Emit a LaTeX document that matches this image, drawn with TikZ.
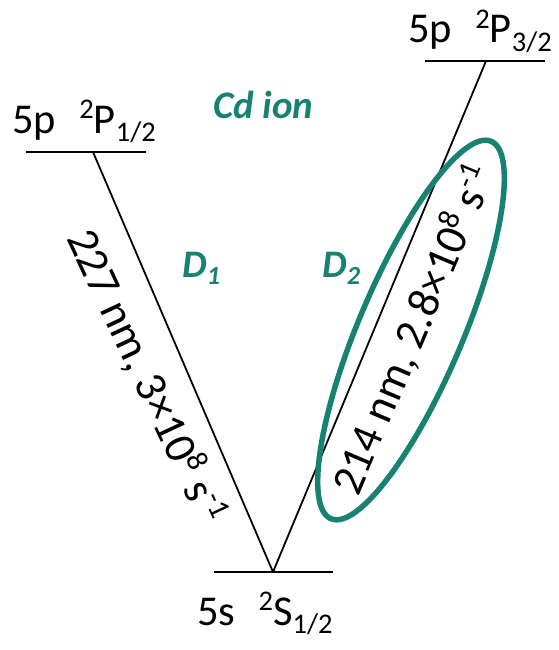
\documentclass[tikz,border=0pt]{standalone}
\usepackage{fontspec}
\setmainfont{Carlito}
\definecolor{tealc}{RGB}{24,130,114}
\newcommand\mysup[1]{\raisebox{0.34em}{\scalebox{0.67}{#1}}}
\newcommand\mysub[1]{\raisebox{-0.2em}{\scalebox{0.67}{#1}}}
\begin{document}
\begin{tikzpicture}[x=1pt,y=-1pt,
  level/.style={line width=2.4pt},
  trans/.style={line width=1.8pt},
  lbl/.style={font=\fontsize{42.5}{48}\selectfont, inner sep=0pt, anchor=base west},
  rlbl/.style={font=\fontsize{45}{50}\selectfont, inner sep=0pt, anchor=center},
  tlbl/.style={text=tealc, font=\bfseries\itshape\fontsize{39}{42}\selectfont, inner sep=0pt, anchor=base west}]
\useasboundingbox (0,0) rectangle (558,650);
% level end points
\coordinate (p1l) at (26,152);  \coordinate (p1r) at (146,152); \coordinate (p1t) at (93,152);
\coordinate (p3l) at (425,61);  \coordinate (p3r) at (545,61);  \coordinate (p3t) at (486,61);
\coordinate (sl) at (214,572);  \coordinate (sr) at (333,572);  \coordinate (s0) at (273,572);
\draw[level] (p1l) -- (p1r);
\draw[level] (p3l) -- (p3r);
\draw[level] (sl) -- (sr);
\draw[trans] (p1t) -- (s0);
\draw[trans] (s0) -- (p3t);
% level labels
\node[lbl] (lp1) at (12,133) {5p\hspace{0.55em}\mysup{2}P\mysub{1/2}};
\node[lbl] (lp3) at (408,43) {5p\hspace{0.55em}\mysup{2}P\mysub{3/2}};
\node[lbl] (ls) at (197,625) {5s\hspace{0.55em}\mysup{2}S\mysub{1/2}};
% teal labels
\node[tlbl] (cd) at (213,118) {Cd ion};
\node[tlbl] (d1) at (182,277) {D\mysub{1}};
\node[tlbl] (d2) at (322,277) {D\mysub{2}};
% transition labels
\node[rlbl, rotate=-65] (t1) at (147,376) {227 nm, 3×10\mysup{8} s\mysup{-1}};
\node[rlbl, rotate=67] (t2) at (413,330) {214 nm, 2.8×10\mysup{8} s\mysup{-1}};
\draw[tealc, line width=5.5pt, rotate around={67:(411,330)}] (411,330) ellipse [x radius=205pt, y radius=52pt];
\end{tikzpicture}
\end{document}
